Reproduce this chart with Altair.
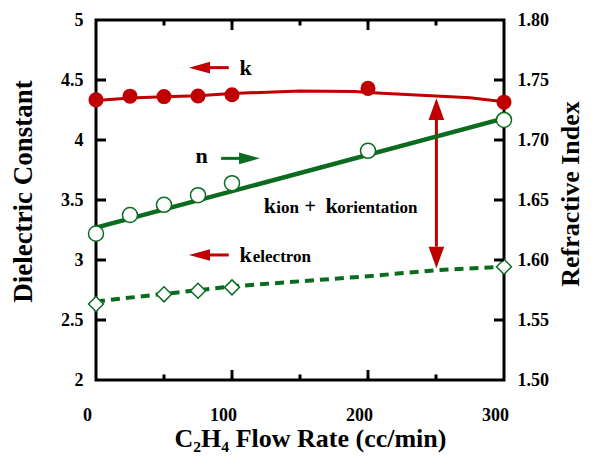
import altair as alt
import pandas as pd

# ---- data ----
flow_k = [0, 25, 50, 75, 100, 200, 300]
k_vals = [4.335, 4.365, 4.362, 4.367, 4.377, 4.43, 4.315]

flow_n = [0, 25, 50, 75, 100, 200, 300]
n_vals = [1.622, 1.6375, 1.646, 1.654, 1.664, 1.691, 1.7167]

flow_ke = [0, 50, 75, 100, 300]
ke_vals = [2.633, 2.714, 2.744, 2.772, 2.944]

# fitted curves drawn in the reference
k_fit_x = [0, 25, 50, 75, 100, 150, 190, 210, 250, 275, 300]
k_fit_y = [4.33, 4.35, 4.36, 4.368, 4.388, 4.408, 4.405, 4.39, 4.367, 4.352, 4.318]
n_fit_x = [0, 300]
n_fit_y = [1.627, 1.718]
ke_fit_x = [0, 100, 200, 250, 300]
ke_fit_y = [2.655, 2.78, 2.865, 2.915, 2.945]

# axes ticks / labels
x_label_vals = [0, 100, 200, 300]
x_major_ticks = [100, 200]
x_minor_ticks = [50, 150, 250]
left_vals = [2, 2.5, 3, 3.5, 4, 4.5, 5]
left_ticks = [2.5, 3, 3.5, 4, 4.5]
right_vals = [1.5, 1.55, 1.6, 1.65, 1.7, 1.75, 1.8]
right_ticks = [1.55, 1.6, 1.65, 1.7, 1.75]

# annotation texts (position in data space of left axis)
ann_text = ["k", "n", "k", "electron", "k", "ion", "+", "k", "orientation"]
ann_x = [105.5, 73.2, 105.5, 115.3, 123.4, 132.5, 153.3, 168.8, 177.4]
ann_y = [4.542, 3.806, 2.986, 2.986, 3.389, 3.389, 3.389, 3.389, 3.389]
ann_size = [22, 22, 22, 17, 22, 17, 20, 22, 17]

# arrows: shafts and heads
RED = "#c00000"
GREEN = "#0b6b1f"
shaft_x = [82, 92, 82, 250.3]
shaft_x2 = [97.6, 106.8, 97.6, 250.3]
shaft_y = [4.603, 3.847, 3.042, 4.167]
shaft_y2 = [4.603, 3.847, 3.042, 3.111]
shaft_c = [RED, GREEN, RED, RED]

LEFT = "M-1,0L1,-0.55L1,0.55Z"
RIGHT = "M1,0L-1,-0.55L-1,0.55Z"
UP = "M0,-1L-0.72,1L0.72,1Z"
DOWN = "M0,1L-0.72,-1L0.72,-1Z"
head_x = [76.1, 112.9, 76.1, 250.3, 250.3]
head_y = [4.603, 3.847, 3.042, 4.257, 3.021]
head_shape = [LEFT, RIGHT, LEFT, UP, DOWN]
head_size = [441, 441, 441, 470, 470]
head_c = [RED, GREEN, RED, RED, RED]

FONT = "Liberation Serif"

df_k = pd.DataFrame({"x": flow_k, "y": k_vals})
df_n = pd.DataFrame({"x": flow_n, "y": n_vals})
df_ke = pd.DataFrame({"x": flow_ke, "y": ke_vals})
df_kfit = pd.DataFrame({"x": k_fit_x, "y": k_fit_y})
df_nfit = pd.DataFrame({"x": n_fit_x, "y": n_fit_y})
df_kefit = pd.DataFrame({"x": ke_fit_x, "y": ke_fit_y})
df_lt = pd.DataFrame({"y": left_ticks})
df_rt = pd.DataFrame({"y": right_ticks})
df_xmaj = pd.DataFrame({"x": x_major_ticks})
df_xmin = pd.DataFrame({"x": x_minor_ticks})
df_ann = pd.DataFrame({"x": ann_x, "y": ann_y, "t": ann_text, "s": ann_size})
df_shaft = pd.DataFrame({"x": shaft_x, "x2": shaft_x2, "y": shaft_y, "y2": shaft_y2, "c": shaft_c})
df_head = pd.DataFrame({"x": head_x, "y": head_y, "sh": head_shape, "s": head_size, "c": head_c})

W, H = 408, 360
xs = alt.Scale(domain=[0, 300], nice=False)
yl = alt.Scale(domain=[2, 5], nice=False)
yr = alt.Scale(domain=[1.5, 1.8], nice=False)

x_axis = alt.Axis(
    values=x_label_vals, format="d", ticks=False, domain=False, grid=False,
    labelPadding=26, labelOffset=-9, labelFlush=False,
    title="C₂H₄ Flow Rate (cc/min)", titleX=214, titleY=66,
    titleAlign="center", titleBaseline="alphabetic", titleFontSize=26,
)
yl_axis = alt.Axis(
    values=left_vals, format="~g", ticks=False, domain=False, grid=False,
    labelPadding=13, labelFlush=False,
    title="Dielectric Constant", titleAngle=270, titleX=-65, titleY=171,
    titleAlign="center", titleBaseline="alphabetic", titleFontSize=27,
)
yr_axis = alt.Axis(
    orient="right", values=right_vals, format=".2f", ticks=False, domain=False,
    grid=False, labelPadding=13, labelFlush=False,
    title="Refractive Index", titleAngle=270, titleX=74, titleY=173.5,
    titleAlign="center", titleBaseline="alphabetic", titleFontSize=26,
)

XN = alt.X("x:Q", scale=xs, axis=x_axis)
YLN = alt.Y("y:Q", scale=yl, axis=yl_axis)
YRN = alt.Y("y:Q", scale=yr, axis=yr_axis)

k_fit = alt.Chart(df_kfit).mark_line(color=RED, strokeWidth=3).encode(x=XN, y=YLN)
ke_fit = alt.Chart(df_kefit).mark_line(color=GREEN, strokeWidth=4, strokeDash=[9, 6]).encode(x=XN, y=YLN)
k_pts = alt.Chart(df_k).mark_point(shape="circle", filled=True, color=RED, size=227, opacity=1).encode(x=XN, y=YLN)
ke_pts = alt.Chart(df_ke).mark_point(shape="diamond", filled=True, fill="white", stroke=GREEN,
                                     strokeWidth=1.5, size=225, opacity=1).encode(x=XN, y=YLN)

lt = alt.Chart(df_lt).mark_rule(color="black", strokeWidth=3).encode(
    y=YLN, x=alt.value(0), x2=alt.value(10))
xmaj_b = alt.Chart(df_xmaj).mark_rule(color="black", strokeWidth=3).encode(
    x=XN, y=alt.value(H), y2=alt.value(H - 10))
xmaj_t = alt.Chart(df_xmaj).mark_rule(color="black", strokeWidth=3).encode(
    x=XN, y=alt.value(0), y2=alt.value(10))
xmin_b = alt.Chart(df_xmin).mark_rule(color="black", strokeWidth=3).encode(
    x=XN, y=alt.value(H), y2=alt.value(H - 5.5))
xmin_t = alt.Chart(df_xmin).mark_rule(color="black", strokeWidth=3).encode(
    x=XN, y=alt.value(0), y2=alt.value(5.5))

shafts = alt.Chart(df_shaft).mark_rule(strokeWidth=3).encode(
    x=XN, x2="x2:Q", y=YLN, y2="y2:Q", color=alt.Color("c:N", scale=None))
heads = alt.Chart(df_head).mark_point(filled=True, opacity=1, strokeWidth=0).encode(
    x=XN, y=YLN, shape=alt.Shape("sh:N", scale=None), size=alt.Size("s:Q", scale=None),
    color=alt.Color("c:N", scale=None))
texts = alt.Chart(df_ann).mark_text(align="left", baseline="alphabetic", font=FONT,
                                    fontWeight="bold", color="black").encode(
    x=XN, y=YLN, text="t:N", size=alt.Size("s:Q", scale=None))

left = alt.layer(k_fit, ke_fit, lt, xmaj_b, xmaj_t, xmin_b, xmin_t, shafts, heads, texts, k_pts, ke_pts)

n_fit = alt.Chart(df_nfit).mark_line(color=GREEN, strokeWidth=4.5).encode(x=XN, y=YRN)
n_pts = alt.Chart(df_n).mark_point(shape="circle", filled=True, fill="white", stroke=GREEN,
                                   strokeWidth=1.5, size=227, opacity=1).encode(x=XN, y=YRN)
rt = alt.Chart(df_rt).mark_rule(color="black", strokeWidth=3).encode(
    y=YRN, x=alt.value(W - 10), x2=alt.value(W))
right = alt.layer(n_fit, rt, n_pts)

chart = alt.layer(left, right).resolve_scale(y="independent").properties(
    width=W, height=H,
    padding={"left": 88, "top": 12, "right": 82, "bottom": 84},
    autosize=alt.AutoSizeParams(type="none"),
).configure_view(stroke="black", strokeWidth=3).configure_axis(
    labelFont=FONT, labelFontWeight="bold", labelFontSize=18, labelColor="black",
    titleFont=FONT, titleFontWeight="bold", titleColor="black",
)

chart.save("out.html", embed_options={"renderer": "svg", "actions": False})
